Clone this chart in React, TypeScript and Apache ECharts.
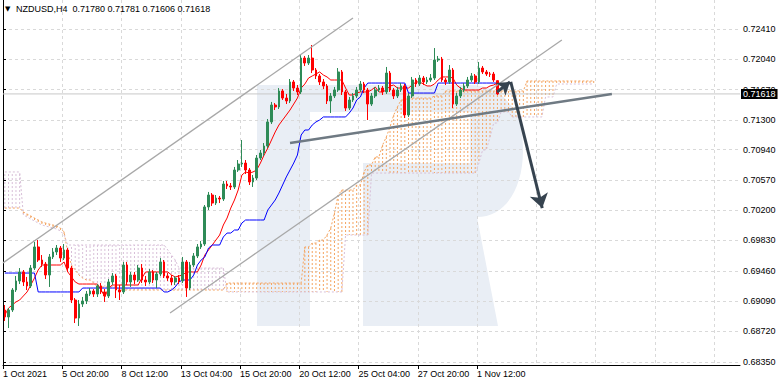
import React, { useEffect, useRef } from "react";
import * as echarts from "echarts";

// ---------- data ----------
const titleText = "NZDUSD,H4  0.71780 0.71781 0.71606 0.71618";
const currentPrice = 0.71618;
const xTickBars = [0, 16, 32, 48, 64, 80, 96, 112, 128];
const xTickLabels = ["1 Oct 2021", "5 Oct 20:00", "8 Oct 12:00", "13 Oct 04:00", "15 Oct 20:00", "20 Oct 12:00", "25 Oct 04:00", "27 Oct 20:00", "1 Nov 12:00"];
const xGridBars = [16, 32, 48, 64, 80, 96, 112, 128, 144, 160, 176, 192];
const yTickValues = [0.7241, 0.7204, 0.7167, 0.713, 0.7094, 0.7057, 0.702, 0.6983, 0.6946, 0.6909, 0.6872, 0.6835];

// price x 100000 : [open, close, low, high]
const candles = [
  [68982, 68897, 68848, 69043], [68897, 68982, 68762, 69006], [68982, 69226, 68958, 69250], [69226, 69336, 69202, 69397],
  [69336, 69446, 69299, 69494], [69446, 69324, 69275, 69470], [69324, 69275, 69226, 69385], [69275, 69494, 69250, 69531],
  [69494, 69751, 69470, 69812], [69751, 69592, 69568, 69836], [69592, 69543, 69507, 69653], [69543, 69409, 69360, 69568],
  [69409, 69629, 69263, 69665], [69629, 69690, 69604, 69738], [69690, 69738, 69653, 69775], [69738, 69616, 69568, 69763],
  [69616, 69714, 69592, 69787], [69714, 69494, 69446, 69738], [69494, 69104, 69067, 69519], [69104, 68884, 68823, 69128],
  [68884, 69055, 68787, 69104], [69055, 69092, 69019, 69141], [69092, 69177, 69055, 69214], [69177, 69214, 69153, 69250],
  [69214, 69177, 69141, 69238], [69177, 69275, 69141, 69299], [69275, 69202, 69177, 69311], [69202, 69153, 69080, 69238],
  [69153, 69324, 69128, 69360], [69324, 69397, 69287, 69433], [69397, 69226, 69128, 69421], [69226, 69202, 69104, 69287],
  [69202, 69531, 69177, 69568], [69531, 69324, 69287, 69568], [69324, 69409, 69263, 69446], [69409, 69348, 69299, 69446],
  [69348, 69494, 69324, 69531], [69494, 69348, 69311, 69543], [69348, 69324, 69275, 69397], [69324, 69446, 69299, 69482],
  [69446, 69348, 69311, 69470], [69348, 69421, 69250, 69446], [69421, 69568, 69397, 69616], [69568, 69397, 69372, 69592],
  [69397, 69372, 69336, 69433], [69372, 69324, 69287, 69409], [69324, 69372, 69287, 69397], [69372, 69336, 69299, 69409],
  [69336, 69568, 69311, 69629], [69568, 69250, 69141, 69592], [69250, 69531, 69226, 69568], [69531, 69641, 69507, 69677],
  [69641, 69751, 69616, 69787], [69751, 69787, 69726, 69824], [69787, 70239, 69763, 70263], [70239, 70385, 70202, 70422],
  [70385, 70287, 70251, 70409], [70287, 70348, 70263, 70385], [70348, 70336, 70287, 70373], [70336, 70519, 70312, 70556],
  [70519, 70495, 70458, 70556], [70495, 70483, 70446, 70531], [70483, 70690, 70458, 70727], [70690, 70763, 70666, 70812],
  [70763, 70775, 70727, 71056], [70775, 70690, 70641, 70812], [70690, 70544, 70507, 70714], [70544, 70592, 70483, 70629],
  [70592, 70836, 70568, 70873], [70836, 70897, 70812, 70934], [70897, 70983, 70861, 71019], [70983, 71276, 70958, 71312],
  [71276, 71483, 71251, 71520], [71483, 71459, 71422, 71507], [71459, 71654, 71434, 71690], [71654, 71568, 71544, 71678],
  [71568, 71532, 71495, 71617], [71532, 71764, 71507, 71800], [71764, 71690, 71654, 71788], [71690, 71642, 71605, 71727],
  [71642, 72056, 71617, 72093], [72056, 71995, 71959, 72081], [71995, 72056, 71971, 72093], [72056, 71910, 71873, 72215],
  [71910, 71837, 71800, 71934], [71837, 71764, 71727, 71861], [71764, 71715, 71678, 71800], [71715, 71532, 71495, 71739],
  [71532, 71593, 71385, 71629], [71593, 71666, 71568, 71703], [71666, 71886, 71642, 71934], [71886, 71642, 71605, 71910],
  [71642, 71446, 71410, 71666], [71446, 71544, 71422, 71581], [71544, 71593, 71520, 71629], [71593, 71666, 71568, 71703],
  [71666, 71739, 71642, 71776], [71739, 71666, 71629, 71764], [71666, 71495, 71300, 71690], [71495, 71593, 71471, 71629],
  [71593, 71666, 71568, 71703], [71666, 71690, 71642, 71727], [71690, 71642, 71605, 71715], [71642, 71873, 71617, 71947],
  [71873, 71666, 71642, 71898], [71666, 71593, 71556, 71690], [71593, 71666, 71568, 71703], [71666, 71715, 71642, 71751],
  [71715, 71361, 71324, 71739], [71361, 71593, 71337, 71629], [71593, 71788, 71568, 71825], [71788, 71739, 71703, 71812],
  [71739, 71812, 71715, 71849], [71812, 71764, 71727, 71837], [71764, 71788, 71739, 71825], [71788, 71812, 71764, 71861],
  [71812, 72032, 71788, 72178], [72032, 72044, 72008, 72081], [72044, 71788, 71764, 72069], [71788, 71764, 71727, 71812],
  [71764, 71910, 71739, 71971], [71910, 71495, 71446, 71934], [71495, 71593, 71471, 71629], [71593, 71666, 71568, 71703],
  [71666, 71715, 71642, 71751], [71715, 71788, 71690, 71825], [71788, 71837, 71764, 71873], [71837, 71764, 71739, 71861],
  [71764, 71934, 71739, 72008], [71934, 71886, 71861, 71959], [71886, 71861, 71837, 71910], [71861, 71859, 71825, 71886],
  [71861, 71788, 71764, 71886], [71780, 71618, 71606, 71781],
];

const tenkan = [
  68921, 69006, 69043, 69080, 69104, 69153, 69202, 69287, 69372, 69470,
  69531, 69531, 69531, 69531, 69531, 69531, 69568, 69446, 69385, 69324,
  69299, 69299, 69299, 69299, 69299, 69299, 69226, 69141, 69250, 69287,
  69287, 69287, 69287, 69287, 69287, 69287, 69287, 69372, 69446, 69446,
  69446, 69446, 69446, 69446, 69446, 69409, 69385, 69397, 69409, 69446,
  69446, 69446, 69446, 69531, 69653, 69714, 69775, 69836, 69897, 70019,
  70104, 70226, 70324, 70446, 70629, 70666, 70653, 70666, 70690, 70775,
  70873, 70958, 71056, 71154, 71239, 71300, 71361, 71422, 71495, 71568,
  71690, 71739, 71812, 71837, 71861, 71886, 71849, 71825, 71788, 71788,
  71788, 71788, 71690, 71605, 71605, 71629, 71642, 71642, 71642, 71666,
  71703, 71642, 71642, 71666, 71715, 71727, 71690, 71690, 71690, 71690,
  71727, 71764, 71764, 71739, 71715, 71715, 71739, 71788, 71825, 71825,
  71825, 71812, 71727, 71690, 71666, 71666, 71666, 71666, 71666, 71690,
  71690, 71715, 71727, 71751,
];

const kijun = [
  69433, 69433, 69433, 69433, 69433, 69433, 69433, 69433, 69433, 69202,
  69202, 69202, 69202, 69202, 69202, 69202, 69202, 69202, 69202, 69202,
  69202, 69250, 69250, 69250, 69250, 69250, 69250, 69250, 69250, 69250,
  69250, 69250, 69250, 69250, 69250, 69250, 69250, 69250, 69250, 69250,
  69250, 69250, 69250, 69202, 69202, 69226, 69263, 69324, 69348, 69348,
  69348, 69409, 69531, 69592, 69629, 69738, 69775, 69775, 69775, 69873,
  69921, 69921, 69958, 69958, 70043, 70080, 70080, 70080, 70080, 70080,
  70080, 70202, 70263, 70324, 70409, 70507, 70605, 70690, 70775, 70873,
  71117, 71178, 71178, 71239, 71276, 71300, 71337, 71337, 71337, 71337,
  71337, 71337, 71337, 71385, 71446, 71544, 71581, 71690, 71751, 71751,
  71751, 71751, 71751, 71751, 71751, 71751, 71751, 71751, 71751, 71629,
  71629, 71629, 71629, 71629, 71629, 71629, 71629, 71751, 71751, 71751,
  71751, 71751, 71751, 71751, 71751, 71751, 71751, 71751, 71751, 71751,
  71751, 71751, 71751, 71751,
];

const spanA = [
  70226, 70226, 70226, 70226, 70226, 70178, 70153, 70129, 70104, 70080,
  70056, 70043, 70031, 70019, 70007, 69982, 69934, 69677, 69531, 69470,
  69409, 69372, 69348, 69348, 69311, 69263, 69263, 69263, 69263, 69263,
  69263, 69226, 69226, 69226, 69226, 69226, 69226, 69226, 69226, 69226,
  69226, 69226, 69226, 69226, 69226, 69226, 69226, 69226, 69226, 69226,
  69226, 69226, 69226, 69226, 69226, 69226, 69226, 69226, 69226, 69226,
  69311, 69311, 69311, 69311, 69311, 69311, 69311, 69311, 69311, 69311,
  69311, 69311, 69311, 69311, 69311, 69311, 69311, 69311, 69311, 69311,
  69311, 69751, 69751, 69799, 69799, 69836, 69836, 69897, 69982, 70165,
  70385, 70446, 70446, 70446, 70446, 70507, 70507, 70666, 70751, 70751,
  70849, 70849, 70995, 71093, 71215, 71361, 71459, 71544, 71544, 71568,
  71568, 71568, 71568, 71568, 71568, 71568, 71593, 71593, 71593, 71654,
  71654, 71654, 71654, 71654, 71654, 71654, 71654, 71654, 71654, 71654,
  71654, 71654, 71654, 71654, 71654, 71654, 71654, 71654, 71654, 71654,
  71654, 71776, 71776, 71776, 71776, 71776, 71776, 71776, 71776, 71776,
  71776, 71776, 71776, 71776, 71776, 71776, 71776, 71776, 71776, 71776,
];

const spanB = [
  70666, 70666, 70666, 70666, 70666, 70141, 70117, 70092, 70068, 70043,
  70019, 70007, 69995, 69982, 69970, 69946, 69897, 69775, 69775, 69775,
  69775, 69775, 69775, 69775, 69775, 69775, 69775, 69775, 69775, 69775,
  69775, 69775, 69775, 69775, 69775, 69775, 69775, 69775, 69775, 69775,
  69775, 69775, 69775, 69775, 69714, 69653, 69592, 69494, 69494, 69494,
  69494, 69494, 69494, 69494, 69494, 69494, 69494, 69494, 69494, 69494,
  69202, 69202, 69202, 69202, 69202, 69202, 69202, 69202, 69202, 69202,
  69202, 69202, 69202, 69202, 69202, 69202, 69202, 69202, 69202, 69202,
  69202, 69202, 69202, 69202, 69202, 69202, 69202, 69202, 69202, 69202,
  69202, 69202, 69897, 69897, 69897, 69897, 69897, 69897, 69897, 70653,
  70653, 70653, 70653, 70653, 70653, 70653, 70653, 70653, 70653, 70653,
  70653, 70653, 70653, 70653, 70653, 70653, 70653, 70653, 70653, 70653,
  70653, 70653, 70653, 70653, 70653, 70653, 70653, 70653, 70775, 70934,
  70934, 71093, 71263, 71263, 71398, 71398, 71398, 71337, 71337, 71337,
  71337, 71337, 71337, 71337, 71337, 71337, 71581, 71581, 71581, 71739,
  71739, 71739, 71739, 71739, 71739, 71739, 71739, 71739, 71739, 71739,
];

// annotations: [bar position, price]
const channelUpper = [[0, 0.69557], [94.5, 0.72544]];
const channelLower = [[45.1, 0.68945], [150.9, 0.72276]];
const trendLine = [[77.5, 0.71019], [164.4, 0.71617]];
const arrowUp = [[133.4, 0.71642], [136.9, 0.71764]];
const arrowDown = [[137.1, 0.71764], [145.6, 0.70226]];

const SCALE = 100000;
const X_MAX = 199;
const Y_MIN = 0.68311;
const Y_MAX = 0.72764;

const LOGO_PATH =
  "M257 85 H470 C503 85 523 110 523 150 C523 192 503 217 477 217 L498 326 H363 V163 H470 V112 H310 V326 H257 Z";
echarts.graphic.registerShape("logo", echarts.graphic.extendPath(LOGO_PATH, {}));

const FONT = "'Liberation Sans', Arial, sans-serif";

export default function App() {
  const ref = useRef<HTMLDivElement>(null);
  useEffect(() => {
    if (!ref.current) return;
    const chart = echarts.init(ref.current, undefined, { renderer: "svg" });
    const pos = (i: number) => i + 0.5;
    const candleData = candles.map((c, i) => [pos(i), c[0] / SCALE, c[1] / SCALE, c[2] / SCALE, c[3] / SCALE]);
    const lineData = (arr: number[]) => arr.map((v, i) => [pos(i), v / SCALE]);
    const cloudData = spanA.map((a, i) => [pos(i), a / SCALE, spanB[i] / SCALE]);
    const seg = (pts: number[][], endSymbol: string, color: string, width: number, size = 10) => [
      { coord: pts[0], symbol: "none", lineStyle: { color, width, type: "solid" } },
      { coord: pts[1], symbol: endSymbol, symbolSize: size },
    ];

    const option: any = {
      animation: false,
      backgroundColor: "#ffffff",
      grid: { left: 3, right: 42, top: 0, bottom: 20, containLabel: false },
      graphic: {
        elements: [
          { type: "logo", x: 0, y: 0, z: -10, silent: true, style: { fill: "#e9eef5" } },
          {
            type: "text", x: 5, y: 5, z: 10, silent: true,
            style: { text: "▼", fontSize: 7, fontFamily: "DejaVu Sans", fill: "#000", verticalAlign: "top" },
          },
          {
            type: "text", x: 16, y: 4, z: 10, silent: true,
            style: { text: titleText, fontSize: 9, fontFamily: FONT, fill: "#000", verticalAlign: "top" },
          },
        ],
      },
      xAxis: [
        {
          type: "value", min: 0, max: X_MAX, position: "bottom",
          axisLine: { show: true, onZero: false, lineStyle: { color: "#000", width: 1 } },
          axisTick: { show: true, customValues: xTickBars, length: 4, lineStyle: { color: "#000" } },
          axisLabel: {
            show: true, customValues: xTickBars, align: "left", margin: 4,
            fontSize: 9, fontFamily: FONT, color: "#000",
            formatter: (v: number) => xTickLabels[Math.round(v / 16)] ?? "",
          },
          splitLine: { show: false },
        },
        {
          type: "value", min: 0, max: X_MAX, position: "bottom",
          axisLine: { show: false }, axisLabel: { show: false },
          axisTick: { show: false, customValues: xGridBars },
          splitLine: { show: true, lineStyle: { color: "#d9d9d9", type: [3, 3], width: 1 } },
        },
      ],
      yAxis: [
        {
          type: "value", min: Y_MIN, max: Y_MAX, position: "right",
          axisLine: { show: true, lineStyle: { color: "#000", width: 1 } },
          axisTick: { show: true, customValues: yTickValues, length: 3, lineStyle: { color: "#000" } },
          axisLabel: {
            show: true, customValues: yTickValues, margin: 3,
            fontSize: 9, fontFamily: FONT, color: "#000",
            formatter: (v: number) => v.toFixed(5),
          },
          splitLine: { show: true, lineStyle: { color: "#d9d9d9", type: [3, 3], width: 1 } },
        },
        {
          type: "value", min: Y_MIN, max: Y_MAX, position: "left",
          axisLine: { show: true, lineStyle: { color: "#000", width: 1 } },
          axisTick: { show: false }, axisLabel: { show: false }, splitLine: { show: false },
        },
      ],
      series: [
        {
          type: "custom", name: "cloud", xAxisIndex: 0, yAxisIndex: 0, z: 1, silent: true,
          data: cloudData,
          encode: { x: 0, y: [1, 2] },
          renderItem: (_p: any, api: any) => {
            const x = api.value(0);
            const a = api.value(1);
            const b = api.value(2);
            const p1 = api.coord([x, a]);
            const p2 = api.coord([x, b]);
            return {
              type: "line",
              shape: { x1: p1[0], y1: p1[1], x2: p2[0], y2: p2[1] },
              style: { stroke: a >= b ? "#f4a460" : "#d8bfd8", lineWidth: 1, lineDash: [2, 2] },
            };
          },
        },
        {
          type: "line", name: "Senkou A", data: lineData(spanA), showSymbol: false, symbol: "none", z: 2, silent: true,
          lineStyle: { color: "#f4a460", width: 1, type: [2, 2] },
        },
        {
          type: "line", name: "Senkou B", data: lineData(spanB), showSymbol: false, symbol: "none", z: 2, silent: true,
          lineStyle: { color: "#d8bfd8", width: 1, type: [2, 2] },
        },
        {
          type: "line", name: "price", data: [[0, currentPrice], [X_MAX, currentPrice]], showSymbol: false, symbol: "none",
          z: 2, silent: true, lineStyle: { color: "#c8c8c8", width: 1 },
          endLabel: {
            show: true, distance: 1, formatter: () => currentPrice.toFixed(5), color: "#fff",
            backgroundColor: "#000", padding: [1, 2, 0, 2], fontSize: 9, fontFamily: FONT,
          },
        },
        {
          type: "line", name: "Tenkan", data: lineData(tenkan), showSymbol: false, symbol: "none", z: 3, silent: true,
          lineStyle: { color: "#ff0000", width: 1 },
        },
        {
          type: "line", name: "Kijun", data: lineData(kijun), showSymbol: false, symbol: "none", z: 3, silent: true,
          lineStyle: { color: "#0000ff", width: 1 },
        },
        {
          type: "candlestick", name: "NZDUSD", z: 4, data: candleData, barWidth: 2.2,
          itemStyle: { color: "#2e8b57", color0: "#ff0000", borderColor: "#2e8b57", borderColor0: "#ff0000", borderWidth: 1 },
          markLine: {
            silent: true, symbol: ["none", "none"], z: 6,
            label: { show: false },
            data: [
              seg(channelUpper, "none", "#a8a8a8", 1.3),
              seg(channelLower, "none", "#a8a8a8", 1.3),
              seg(trendLine, "none", "#6f7a83", 2.5),
              seg(arrowUp, "arrow", "#36434f", 3, 12),
              seg(arrowDown, "arrow", "#36434f", 3, 14),
            ],
          },
        },
      ],
    };
    chart.setOption(option);
    return () => chart.dispose();
  }, []);
  return (
    <div
      ref={ref}
      style={{ position: "fixed", left: 0, top: 0, width: 782, height: 385, background: "#fff" }}
    />
  );
}
